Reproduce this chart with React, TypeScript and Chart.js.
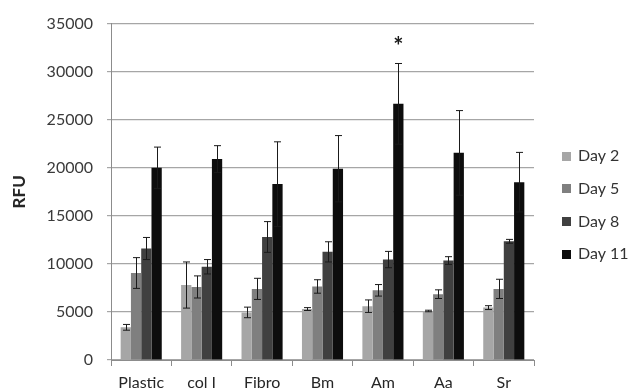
import React, { useEffect, useRef } from "react";
import { Chart, registerables } from "chart.js";

Chart.register(...registerables);

const categories = ["Plastic", "col I", "Fibro", "Bm", "Am", "Aa", "Sr"];
const seriesLabels = ["Day 2", "Day 5", "Day 8", "Day 11"];
const day2 = [3400, 7800, 4950, 5300, 5600, 5100, 5450];
const day2Err = [300, 2400, 550, 150, 650, 80, 200];
const day5 = [9050, 7600, 7400, 7650, 7250, 6850, 7400];
const day5Err = [1600, 1150, 1100, 700, 600, 450, 1000];
const day8 = [11600, 9700, 12800, 11250, 10450, 10350, 12350];
const day8Err = [1150, 750, 1600, 1050, 850, 400, 200];
const day11 = [20000, 20900, 18300, 19900, 26650, 21550, 18500];
const day11Err = [2150, 1400, 4400, 3450, 4200, 4400, 3100];
const yTicks = [0, 5000, 10000, 15000, 20000, 25000, 30000, 35000];
const significant = [{ series: 3, category: 4, mark: "*" }];

const colors = ["#a6a6a6", "#7f7f7f", "#404040", "#0d0d0d"];
const FONT = "Lato";

export default function App() {
  const ref = useRef<HTMLCanvasElement | null>(null);

  useEffect(() => {
    const canvas = ref.current;
    if (!canvas) return;
    const values = [day2, day5, day8, day11];
    const errors = [day2Err, day5Err, day8Err, day11Err];

    const errorBars = {
      id: "errorBars",
      afterDatasetsDraw(chart: any) {
        const ctx = chart.ctx;
        const ys = chart.scales.y;
        ctx.save();
        ctx.strokeStyle = "#1a1a1a";
        ctx.lineWidth = 1;
        values.forEach((vals, i) => {
          const meta = chart.getDatasetMeta(i);
          meta.data.forEach((el: any, j: number) => {
            const x = Math.round(el.x) + 0.5;
            const top = ys.getPixelForValue(vals[j] + errors[i][j]);
            const bot = ys.getPixelForValue(vals[j] - errors[i][j]);
            ctx.beginPath();
            ctx.moveTo(x, top);
            ctx.lineTo(x, bot);
            ctx.moveTo(x - 3.5, top);
            ctx.lineTo(x + 3.5, top);
            ctx.moveTo(x - 3.5, bot);
            ctx.lineTo(x + 3.5, bot);
            ctx.stroke();
          });
        });
        ctx.fillStyle = "#1a1a1a";
        ctx.font = `bold 24px ${FONT}`;
        ctx.textAlign = "center";
        ctx.textBaseline = "middle";
        significant.forEach((s) => {
          const el = chart.getDatasetMeta(s.series).data[s.category];
          const top = ys.getPixelForValue(values[s.series][s.category] + errors[s.series][s.category]);
          ctx.fillText(s.mark, el.x, top - 16);
        });
        ctx.restore();
      },
    };

    const sideLegend = {
      id: "sideLegend",
      afterDraw(chart: any) {
        const ctx = chart.ctx;
        ctx.save();
        ctx.font = `16px ${FONT}`;
        ctx.textAlign = "left";
        ctx.textBaseline = "middle";
        chart.data.datasets.forEach((ds: any, i: number) => {
          const cy = 156 + i * 32.7;
          ctx.fillStyle = ds.backgroundColor;
          ctx.fillRect(562, Math.round(cy - 4.5), 9, 9);
          ctx.fillStyle = "#333333";
          ctx.fillText(ds.label, 578, cy);
        });
        ctx.restore();
      },
    };

    const chart = new Chart(canvas, {
      type: "bar",
      data: {
        labels: categories,
        datasets: values.map((v, i) => ({
          label: seriesLabels[i],
          data: v,
          backgroundColor: colors[i],
          borderWidth: 0,
          categoryPercentage: 0.68,
          barPercentage: 1.0,
        })),
      },
      options: {
        animation: false,
        responsive: false,
        layout: { padding: { top: 22, right: 96, left: 0, bottom: 0 } },
        plugins: {
          legend: { display: false },
          tooltip: { enabled: false },
        },
        scales: {
          x: {
            grid: {
              offset: true,
              drawOnChartArea: false,
              tickLength: 6,
              color: "#8c8c8c",
            },
            border: { color: "#8c8c8c", width: 1 },
            ticks: {
              color: "#262626",
              font: { family: FONT, size: 16 },
              padding: 7,
              maxRotation: 0,
            },
            afterFit: (s: any) => {
              s.height = 32;
            },
          },
          y: {
            min: 0,
            max: 35000,
            afterBuildTicks: (s: any) => {
              s.ticks = yTicks.map((v) => ({ value: v }));
            },
            grid: { color: "#a6a6a6", lineWidth: 1.2, tickLength: 4 },
            border: { color: "#8c8c8c", width: 1 },
            ticks: {
              color: "#3a3a3a",
              font: { family: FONT, size: 16 },
              padding: 14,
              callback: (v: any) => String(v),
            },
            title: {
              display: true,
              text: "RFU",
              color: "#262626",
              font: { family: FONT, size: 17, weight: "bold" },
              padding: { top: 9, bottom: 0 },
            },
            afterFit: (s: any) => {
              s.width = 111;
            },
          },
        },
      },
      plugins: [errorBars, sideLegend],
    });
    return () => chart.destroy();
  }, []);

  return (
    <div style={{ position: "absolute", left: 0, top: 0, width: 630, height: 392, background: "#fff" }}>
      <canvas ref={ref} width={630} height={392} style={{ display: "block" }} />
    </div>
  );
}
